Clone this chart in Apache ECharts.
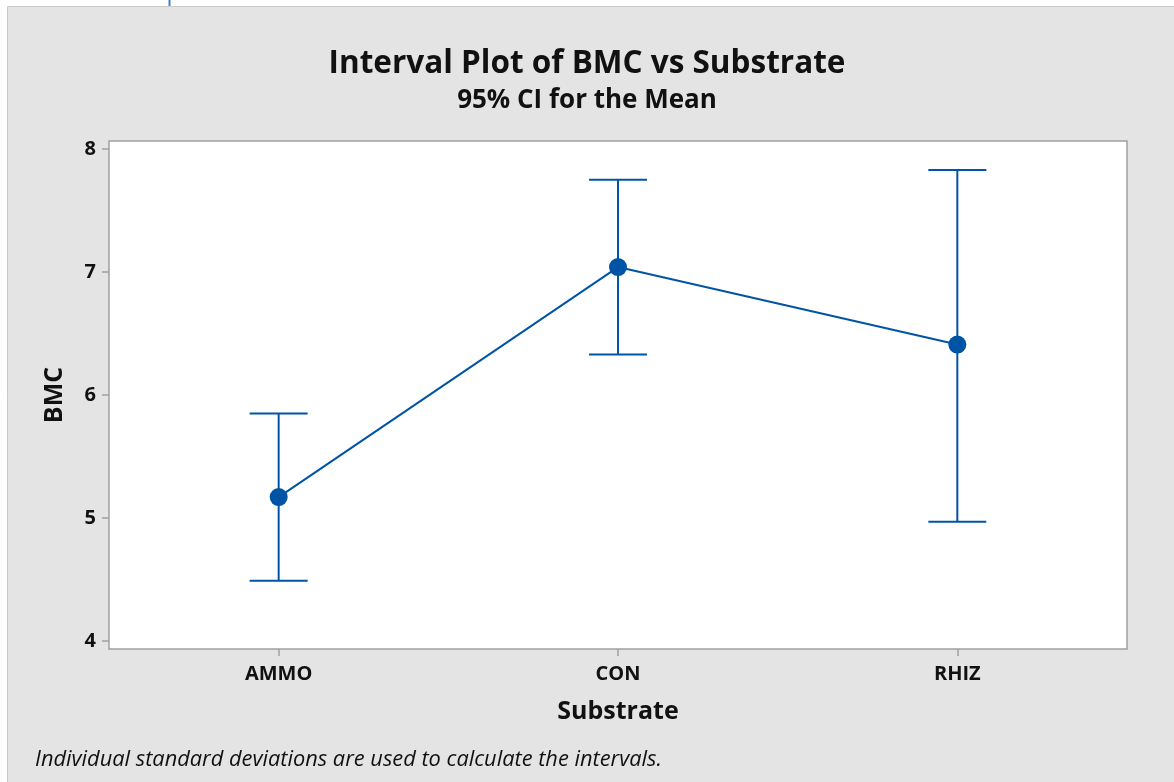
<!DOCTYPE html>
<html>
<head>
<meta charset="utf-8">
<script src="https://cdn.jsdelivr.net/npm/echarts@6/dist/echarts.min.js"></script>
<style>
html,body{margin:0;padding:0;background:#ffffff;}
#chart{width:1174px;height:782px;}
</style>
</head>
<body>
<div id="chart"></div>
<script>
const categories = ['AMMO', 'CON', 'RHIZ'];
const means = [5.17, 7.04, 6.41];
const lowerCI = [4.49, 6.33, 4.97];
const upperCI = [5.85, 7.75, 7.83];
const yTicks = [4, 5, 6, 7, 8];

const FONT = '"Open Sans", "Noto Sans", sans-serif';
const BLUE = '#0054a6';

const chart = echarts.init(document.getElementById('chart'));
const errData = categories.map((c, i) => [i, lowerCI[i], upperCI[i]]);

chart.setOption({
  backgroundColor: '#ffffff',
  animation: false,
  graphic: [
    { type: 'rect', z: -10, shape: { x: 7.5, y: 6.5, width: 1180, height: 790 },
      style: { fill: '#e4e4e4', stroke: '#c9c9c9', lineWidth: 1 } },
    { type: 'line', z: -5, shape: { x1: 169.5, y1: 0, x2: 169.5, y2: 6 },
      style: { stroke: '#3f7fc6', lineWidth: 2 } },
    { type: 'text', left: 35, top: 749,
      style: { text: 'Individual standard deviations are used to calculate the intervals.',
        font: 'italic 21.8px ' + FONT, fill: '#111' } }
  ],
  title: {
    text: 'Interval Plot of BMC vs Substrate',
    subtext: '95% CI for the Mean',
    left: 'center',
    top: 43,
    itemGap: 8,
    textStyle: { fontFamily: FONT, fontWeight: 'bold', fontSize: 31.5, color: '#111' },
    subtextStyle: { fontFamily: FONT, fontWeight: 'bold', fontSize: 26, color: '#111' }
  },
  grid: {
    left: 109, top: 141, right: 47, bottom: 133,
    show: true, backgroundColor: '#ffffff', borderColor: '#a0a0a0', borderWidth: 1.5
  },
  xAxis: {
    type: 'category',
    data: categories,
    boundaryGap: true,
    name: 'Substrate',
    nameLocation: 'middle',
    nameGap: 50,
    nameTextStyle: { fontFamily: FONT, fontWeight: 'bold', fontSize: 25, color: '#111' },
    axisLine: { show: false },
    axisTick: { show: true, alignWithLabel: true, length: 7, inside: false, lineStyle: { color: '#a0a0a0', width: 1.5 } },
    axisLabel: { margin: 15, fontFamily: FONT, fontWeight: 'bold', fontSize: 20, color: '#111' },
    splitLine: { show: false }
  },
  yAxis: {
    type: 'value',
    min: 3.935,
    max: 8.065,
    name: 'BMC',
    nameLocation: 'middle',
    nameRotate: 90,
    nameGap: 42,
    nameTextStyle: { fontFamily: FONT, fontWeight: 'bold', fontSize: 25, color: '#111' },
    axisLine: { show: false },
    axisTick: { show: true, length: 7, customValues: yTicks, lineStyle: { color: '#a0a0a0', width: 1.5 } },
    axisLabel: { margin: 13, customValues: yTicks, fontFamily: FONT, fontWeight: 'bold', fontSize: 20, color: '#111' },
    splitLine: { show: false }
  },
  series: [
    {
      type: 'custom',
      data: errData,
      z: 2,
      renderItem: function (params, api) {
        const x = api.value(0);
        const lo = api.coord([x, api.value(1)]);
        const hi = api.coord([x, api.value(2)]);
        const hw = 29;
        const st = { stroke: BLUE, lineWidth: 2 };
        return {
          type: 'group',
          children: [
            { type: 'line', shape: { x1: lo[0], y1: lo[1], x2: hi[0], y2: hi[1] }, style: st },
            { type: 'line', shape: { x1: lo[0] - hw, y1: lo[1], x2: lo[0] + hw, y2: lo[1] }, style: st },
            { type: 'line', shape: { x1: hi[0] - hw, y1: hi[1], x2: hi[0] + hw, y2: hi[1] }, style: st }
          ]
        };
      }
    },
    {
      type: 'line',
      data: means,
      z: 3,
      symbol: 'circle',
      symbolSize: 18,
      lineStyle: { color: BLUE, width: 2 },
      itemStyle: { color: BLUE },
      emphasis: { disabled: true }
    }
  ]
});
</script>
</body>
</html>
